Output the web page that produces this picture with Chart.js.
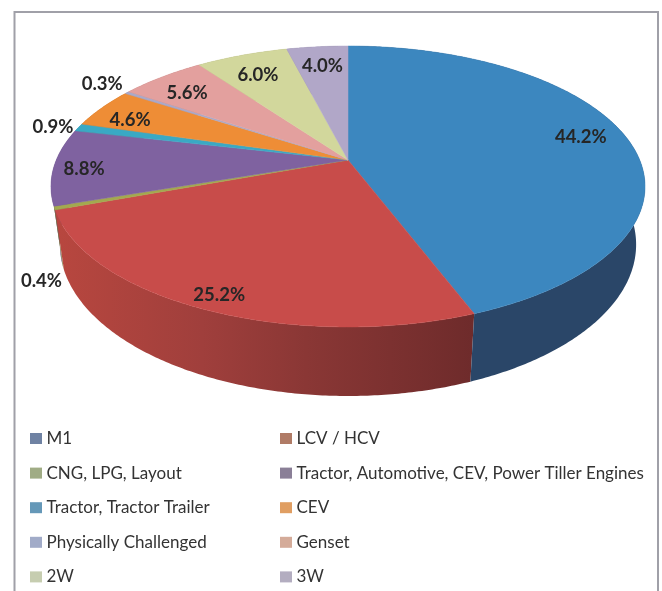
<!DOCTYPE html>
<html>
<head>
<meta charset="utf-8">
<title>Pie chart</title>
<script src="https://cdn.jsdelivr.net/npm/chart.js@4/dist/chart.umd.min.js"></script>
<style>
  html, body { margin: 0; padding: 0; background: #fff; }
  canvas { display: block; }
</style>
</head>
<body>
<canvas id="chart" width="662" height="591"></canvas>
<script>
// Dados
const categories = ['M1', 'LCV / HCV', 'CNG, LPG, Layout', 'Tractor, Automotive, CEV, Power Tiller Engines',
  'Tractor, Tractor Trailer', 'CEV', 'Physically Challenged', 'Genset', '2W', '3W'];
const shares = [44.2, 25.2, 0.4, 8.8, 0.9, 4.6, 0.3, 5.6, 6.0, 4.0];

const sliceColors = ['#3c87bf', '#c84c4a', '#a3a94f', '#7f62a0', '#3aa9c4', '#ee8d36', '#a9a9c9', '#e3a09e', '#d2d79c', '#b1a7c8'];
const wallColors = ['#2a4668', '#6e2b2b', '#7d7f3e', '#5a4672', '#2a7a8c', '#a86426', '#78788e', '#a07170', '#95986e', '#7d768e'];
const legendColors = ['#6f82a3', '#b07b66', '#a0ac85', '#8a7f97', '#6598b8', '#e09e62', '#a1abc8', '#d4ab99', '#c6cdb0', '#b3adc0'];

// Posição dos rótulos: raio relativo e desvio angular (graus) a partir do meio da fatia
const labelRadius = [0.843, 0.918, 1.18, 0.896, 1.09, 0.851, 1.133, 0.818, 0.793, 0.805];
const labelShift = [-1.6, -0.6, -20.9, -1.3, -1.1, -2.9, 0.4, -2, -1, 0];

// Projeção em perspectiva do círculo unitário
const view = { cx: 348, cy: 160, a: 291.7, b: 105.3, k: 0.1886, depth: 56, bottomScale: 0.97 };

function project(angle, radius, lower) {
  const u = Math.sin(angle) * radius;
  const v = -Math.cos(angle) * radius;
  const w = 1 - view.k * v;
  const a = lower ? view.a * view.bottomScale : view.a;
  return {
    x: view.cx + a * u / w,
    y: (view.cy + view.b * v + (lower ? view.depth : 0)) / w
  };
}

function wallFill(ctx, i, start, end) {
  if (i !== 1) return wallColors[i];
  // A parede vermelha escurece da esquerda para a direita
  const grad = ctx.createLinearGradient(project(end, 1).x, 0, project(start, 1).x, 0);
  grad.addColorStop(0, '#b8473f');
  grad.addColorStop(0.35, '#a03f3c');
  grad.addColorStop(0.6, '#8a3735');
  grad.addColorStop(1, wallColors[1]);
  return grad;
}

const pie3d = {
  id: 'pie3d',
  beforeDatasetDraw(chart) {
    const ctx = chart.ctx;
    const arcs = chart.getDatasetMeta(0).data;
    const angleOf = a => a + Math.PI / 2;

    // Parede lateral, de trás para a frente
    for (let i = arcs.length - 1; i >= 0; i--) {
      const start = angleOf(arcs[i].startAngle);
      const end = angleOf(arcs[i].endAngle);
      const steps = Math.max(2, Math.ceil((end - start) / 0.01));
      ctx.beginPath();
      for (let s = 0; s <= steps; s++) {
        const pt = project(start + (end - start) * s / steps, 1, false);
        s ? ctx.lineTo(pt.x, pt.y) : ctx.moveTo(pt.x, pt.y);
      }
      for (let s = steps; s >= 0; s--) {
        const pt = project(start + (end - start) * s / steps, 1, true);
        ctx.lineTo(pt.x, pt.y);
      }
      ctx.closePath();
      ctx.fillStyle = wallFill(ctx, i, start, end);
      ctx.fill();
    }

    // Face superior
    arcs.forEach((arc, i) => {
      const start = angleOf(arc.startAngle);
      const end = angleOf(arc.endAngle);
      const steps = Math.max(2, Math.ceil((end - start) / 0.01));
      ctx.beginPath();
      ctx.moveTo(view.cx, view.cy);
      for (let s = 0; s <= steps; s++) {
        const pt = project(start + (end - start) * s / steps, 1, false);
        ctx.lineTo(pt.x, pt.y);
      }
      ctx.closePath();
      ctx.fillStyle = sliceColors[i];
      ctx.strokeStyle = sliceColors[i];
      ctx.lineWidth = 0.5;
      ctx.fill();
      ctx.stroke();
    });
    return false;
  },
  afterDraw(chart) {
    const ctx = chart.ctx;
    const arcs = chart.getDatasetMeta(0).data;

    // Moldura aberta em baixo
    ctx.save();
    ctx.strokeStyle = '#a0a0a8';
    ctx.lineWidth = 2;
    ctx.beginPath();
    ctx.moveTo(14.5, 591);
    ctx.lineTo(14.5, 12);
    ctx.lineTo(658, 12);
    ctx.lineTo(658, 591);
    ctx.stroke();

    // Rótulos de percentagem
    ctx.fillStyle = '#262626';
    ctx.font = 'bold 18.5px Lato';
    ctx.textAlign = 'center';
    ctx.textBaseline = 'middle';
    arcs.forEach((arc, i) => {
      const mid = (arc.startAngle + arc.endAngle) / 2 + Math.PI / 2 + labelShift[i] * Math.PI / 180;
      const pt = project(mid, labelRadius[i], false);
      ctx.fillText(shares[i].toFixed(1) + '%', pt.x, pt.y);
    });

    // Legenda em duas colunas
    ctx.font = '17px Lato';
    ctx.textAlign = 'left';
    categories.forEach((name, i) => {
      const col = i % 2;
      const row = Math.floor(i / 2);
      const x = col ? 280 : 30;
      const y = 438.5 + row * 34.6;
      ctx.fillStyle = legendColors[i];
      ctx.fillRect(x, y - 5.5, 12, 11);
      ctx.fillStyle = '#333333';
      ctx.fillText(name, x + 16.5, y);
    });
    ctx.restore();
  }
};

new Chart(document.getElementById('chart'), {
  type: 'pie',
  data: {
    labels: categories,
    datasets: [{ data: shares, backgroundColor: sliceColors, borderWidth: 0 }]
  },
  options: {
    responsive: false,
    animation: false,
    plugins: {
      legend: { display: false },
      tooltip: { enabled: false }
    }
  },
  plugins: [pie3d]
});
</script>
</body>
</html>
